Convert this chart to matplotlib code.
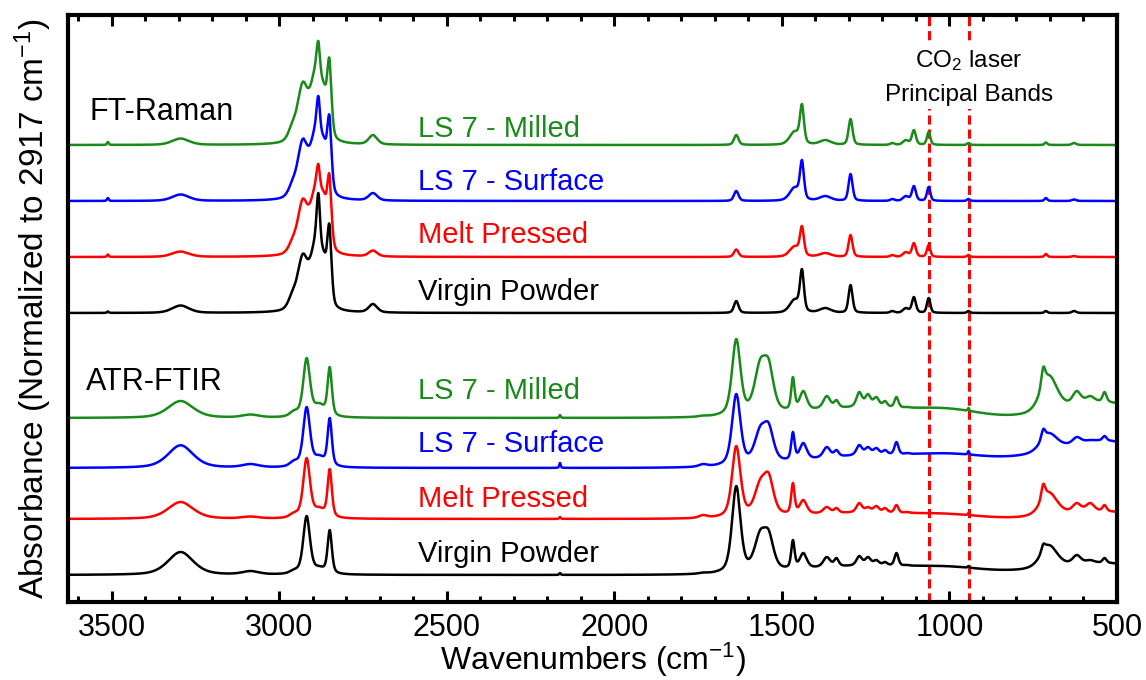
import numpy as np
import matplotlib.pyplot as plt
from matplotlib.ticker import MultipleLocator

plt.rcParams['font.family'] = ['Liberation Sans', 'DejaVu Sans']
plt.rcParams['mathtext.fontset'] = 'custom'
plt.rcParams['mathtext.rm'] = 'Liberation Sans'
plt.rcParams['mathtext.it'] = 'Liberation Sans:italic'

## Samples (top to bottom inside each block)
samples = ['LS 7 - Milled', 'LS 7 - Surface', 'Melt Pressed', 'Virgin Powder']
colors = ['#1a8a1a', '#0000ff', '#ff0000', '#000000']

## FT-Raman: band centres (cm-1), widths (cm-1) and heights above baseline read at each centre
raman_offset = [457, 401, 345, 289]
raman_center = [3511, 3294, 2960, 2930, 2890, 2883, 2866, 2850, 2720, 1636, 1462, 1440, 1370,
                1295, 1170, 1130, 1106, 1062, 943, 712, 628]
raman_fwhm = [6, 60, 30, 35, 40, 12, 22, 15, 30, 16, 35, 14, 40, 14, 15, 20, 14, 12, 10, 10, 15]
raman_milled = [3, 6.5, 24, 63, 88, 104, 62, 87, 10, 10, 14, 41, 5, 26, 2, 5, 15, 13, 2, 2.5, 2]
raman_surface = [3, 6.5, 22, 62, 86, 105, 64, 86, 8, 10, 14, 41, 5, 27, 2, 5, 15, 14, 2, 3, 1.5]
raman_melt = [2.5, 5.5, 20, 58, 80, 93, 65, 83, 6.5, 7.5, 11, 31, 4, 22, 2, 5, 14, 12, 2, 3, 1]
raman_virgin = [1.5, 7.5, 23, 59, 92, 120, 62, 89, 9, 12, 14, 44, 5, 28, 2, 5, 16, 15, 2, 2, 2]

## ATR-FTIR: same layout, plus broad background components
atr_offset = [184, 134, 83, 27]
atr_center = [3294, 3085, 2955, 2918, 2880, 2849, 2162, 1735, 1636, 1565, 1539, 1467, 1436,
              1366, 1337, 1269, 1243, 1218, 1192, 1158, 1124, 943, 720, 703, 620, 580, 537]
atr_fwhm = [90, 60, 30, 24, 40, 15, 5, 30, 30, 40, 35, 12, 25,
            25, 16, 20, 20, 20, 16, 14, 18, 5, 14, 60, 30, 30, 14]
atr_milled = [17, 3.5, 8, 60, 15, 51, 3, 2.5, 79, 59, 59, 41, 27,
              22, 18, 26, 24, 21, 17, 21, 11, 10, 51, 43, 27, 22, 26]
atr_surface = [22.7, 4, 8, 61, 13, 50, 5, 4, 74, 42, 45, 36, 25,
               21, 18, 23, 21, 20, 18, 26, 15, 17, 39, 35, 31, 28, 32]
atr_melt = [17, 2.5, 7, 61, 12, 50, 2, 4, 73, 40, 46, 36, 19,
            12, 11, 16, 12, 13, 11, 14, 7, 6, 35, 27, 16, 16, 14]
atr_virgin = [23, 4, 6, 59, 9, 45, 2, 2.5, 89, 45, 45, 35, 22,
              18, 17, 19, 18, 15, 13, 22, 10, 9, 31, 30, 20, 15, 17]

atr_bg_center = [1250, 1000, 540, 560]
atr_bg_fwhm = [450, 200, 260, 900]
atr_bg_milled = [10, 5, 15, 0]
atr_bg_surface = [10, 4, 15, 12]
atr_bg_melt = [6, 2.5, 7, 0]
atr_bg_virgin = [8, 3, 7.5, 4]

## CO2 laser principal bands
laser_bands = [1062, 942]

wn = np.arange(500.0, 3631.0, 1.0)


def band(x, c, w, eta):
    g = np.exp(-4 * np.log(2) * ((x - c) / w) ** 2)
    l = 1 / (1 + (2 * (x - c) / w) ** 2)
    return eta * l + (1 - eta) * g


def spectrum(centers, fwhm, heights, eta, bg=None):
    c = np.array(centers, float)
    w = np.array(fwhm, float)
    h = np.array(heights, float)
    base = np.zeros_like(wn)
    base_at_c = np.zeros_like(c)
    if bg is not None:
        for bc, bw, bh in zip(*bg):
            base += bh * band(wn, bc, bw, 0)
            base_at_c += bh * band(c, bc, bw, 0)
    ## amplitudes so the curve passes through the read heights at the centres
    A = band(c[:, None], c[None, :], w[None, :], eta)
    amp = np.linalg.solve(A, h - base_at_c)
    return base + band(wn[:, None], c[None, :], w[None, :], eta) @ amp


fig = plt.figure(figsize=(11.46, 6.8), dpi=100)
ax = fig.add_axes([68 / 1146, 78 / 680, 1049 / 1146, 587 / 680])

raman_sets = [raman_milled, raman_surface, raman_melt, raman_virgin]
atr_sets = [atr_milled, atr_surface, atr_melt, atr_virgin]
atr_bgs = [atr_bg_milled, atr_bg_surface, atr_bg_melt, atr_bg_virgin]

for i in range(4):
    y = spectrum(raman_center, raman_fwhm, raman_sets[i], 0.4)
    ax.plot(wn, y + raman_offset[i], color=colors[i], lw=1.8)
    y = spectrum(atr_center, atr_fwhm, atr_sets[i], 0.5,
                 bg=(atr_bg_center, atr_bg_fwhm, atr_bgs[i]))
    ax.plot(wn, y + atr_offset[i], color=colors[i], lw=1.8)

## sample labels
raman_label_y = [465, 412, 359, 302]
atr_label_y = [203, 150, 95, 40]
for i in range(4):
    ax.text(2586, raman_label_y[i], samples[i], color=colors[i], fontsize=21, va='baseline')
    ax.text(2586, atr_label_y[i], samples[i], color=colors[i], fontsize=21, va='baseline')

ax.text(3565, 482, 'FT-Raman', fontsize=22, va='baseline')
ax.text(3577, 212, 'ATR-FTIR', fontsize=22, va='baseline')

for b in laser_bands:
    ax.axvline(b, color='#ff0000', lw=2.2, ls=(0, (3, 1.6)), zorder=1)
ax.text(942, 525, 'CO$_2$ laser\nPrincipal Bands', fontsize=17.5, ha='center', va='center',
        linespacing=1.7, bbox=dict(facecolor='white', edgecolor='none', pad=2), zorder=3)

ax.set_xlim(3630, 500)
ax.set_ylim(0, 587)
ax.set_yticks([])
ax.xaxis.set_major_locator(MultipleLocator(500))
ax.xaxis.set_minor_locator(MultipleLocator(100))
ax.tick_params(axis='x', which='both', direction='in', top=True, bottom=True, width=2.2,
               labelsize=22, pad=8)
ax.tick_params(axis='x', which='major', length=8)
ax.tick_params(axis='x', which='minor', length=4)
for s in ax.spines.values():
    s.set_linewidth(3)

ax.set_xlabel('Wavenumbers (cm$^{-1}$)', fontsize=23, va='bottom')
ax.xaxis.set_label_coords(0.5, -77 / 587)
ax.set_ylabel('Absorbance (Normalized to 2917 cm$^{-1}$)', fontsize=24, va='center')
ax.yaxis.set_label_coords(-0.033, 0.5)

fig.savefig('out.png', dpi=100)
